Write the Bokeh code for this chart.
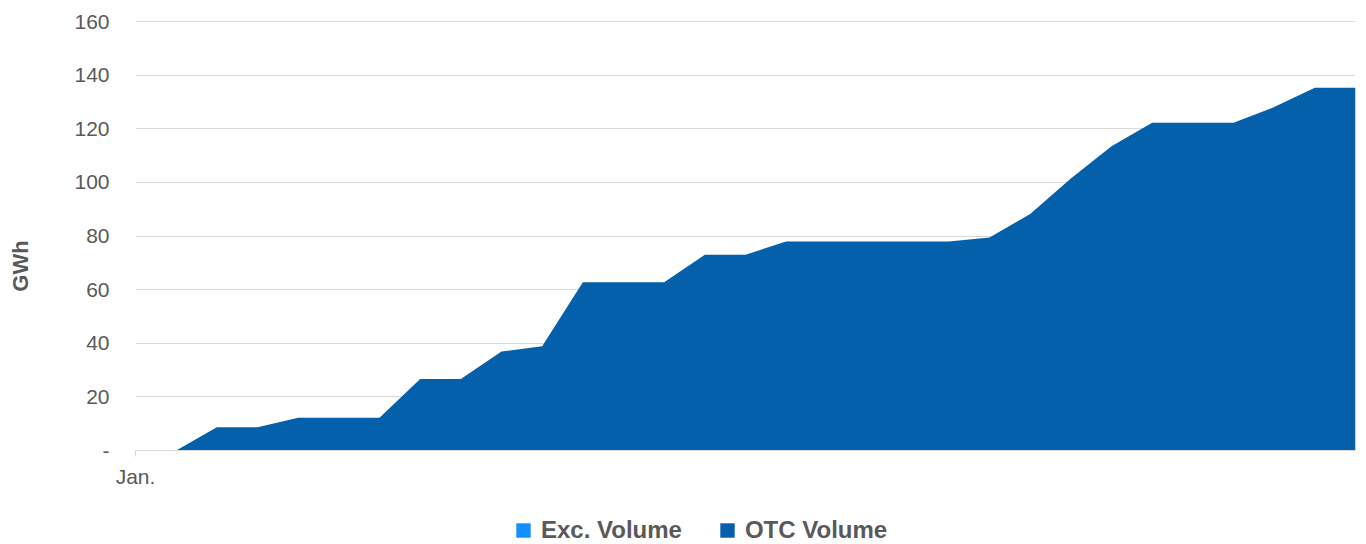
from bokeh.plotting import figure
from bokeh.layouts import column
from bokeh.models import FixedTicker, Legend, LegendItem, ColumnDataSource, Range1d
from bokeh.embed import file_html
from bokeh.resources import INLINE

# ---- data ----
days = [0, 1, 2, 3, 4, 5, 6, 7, 8, 9, 10, 11, 12, 13, 14, 15, 16, 17, 18, 19,
        20, 21, 22, 23, 24, 25, 26, 27, 28, 29, 30]
exc_volume = [0, 0, 0, 0, 0, 0, 0, 0, 0, 0, 0, 0, 0, 0, 0, 0, 0, 0, 0, 0,
              0, 0, 0, 0, 0, 0, 0, 0, 0, 0, 0]
otc_volume = [0, 0, 8.7, 8.7, 12.2, 12.2, 12.2, 26.7, 26.7, 36.9, 38.9,
              62.8, 62.8, 62.8, 73.0, 73.0, 78.0, 78.0, 78.0, 78.0, 78.0,
              79.5, 88.2, 101.5, 113.5, 122.3, 122.3, 122.3, 128.1, 135.3, 135.3]
y_ticks = [0, 20, 40, 60, 80, 100, 120, 140, 160]
y_tick_labels = ["-", "20", "40", "60", "80", "100", "120", "140", "160"]
x_ticks = [0]
x_tick_labels = ["Jan."]
series_names = ["Exc. Volume", "OTC Volume"]
series_colors = ["#138FFF", "#0560AC"]
y_title = "GWh"

FONT = "Liberation Sans"
TXT = "#595959"
GRID = "#d9d9d9"
NBSP = "\u00a0"

src = ColumnDataSource(dict(day=days, exc=exc_volume, otc=otc_volume))

# ---- main chart ----
p = figure(width=1366, height=490, x_range=(0, 30), y_range=(0, 160.4),
           output_backend="svg", toolbar_location=None,
           min_border_left=135, min_border_right=11, min_border_top=20,
           min_border_bottom=40)
p.outline_line_color = None
p.background_fill_color = "white"

rs = p.varea_stack(stackers=["exc", "otc"], x="day", source=src,
                   color=series_colors)

p.xgrid.grid_line_color = None
p.ygrid.grid_line_color = GRID
p.ygrid.grid_line_width = 1
p.ygrid.ticker = FixedTicker(ticks=y_ticks)

ya = p.yaxis[0]
ya.ticker = FixedTicker(ticks=y_ticks)
ya.major_label_overrides = {t: l for t, l in zip(y_ticks, y_tick_labels)}
ya.axis_line_color = None
ya.major_tick_line_color = None
ya.minor_tick_line_color = None
ya.major_tick_out = 0
ya.major_tick_in = 0
ya.major_label_standoff = 26
ya.major_label_text_font = FONT
ya.major_label_text_font_size = "21px"
ya.major_label_text_color = TXT
# trailing no-break spaces push the rotated title down to where the original sits
ya.axis_label = y_title + NBSP * 10
ya.axis_label_standoff = 38
ya.axis_label_text_font = FONT
ya.axis_label_text_font_size = "22px"
ya.axis_label_text_font_style = "bold"
ya.axis_label_text_color = TXT

xa = p.xaxis[0]
xa.ticker = FixedTicker(ticks=x_ticks)
xa.major_label_overrides = {t: l for t, l in zip(x_ticks, x_tick_labels)}
xa.axis_line_color = GRID
xa.axis_line_width = 1
xa.major_tick_line_color = GRID
xa.major_tick_out = 6
xa.major_tick_in = 0
xa.minor_tick_line_color = None
xa.major_label_standoff = 8
xa.major_label_text_font = FONT
xa.major_label_text_font_size = "21px"
xa.major_label_text_color = TXT

# ---- legend strip ----
lf = figure(width=1366, height=54, x_range=Range1d(1000, 1001),
            y_range=Range1d(1000, 1001), output_backend="svg",
            toolbar_location=None, x_axis_location=None, y_axis_location=None,
            min_border_left=0, min_border_right=0, min_border_top=0,
            min_border_bottom=0)
lf.outline_line_color = None
lf.grid.grid_line_color = None
lrs = lf.varea_stack(stackers=["exc", "otc"], x="day", source=src,
                     color=series_colors)

legend = Legend(
    items=[LegendItem(label=n, renderers=[r]) for n, r in zip(series_names, lrs)],
    orientation="horizontal", location=(379, 0),
    glyph_width=18, glyph_height=18, label_standoff=9, spacing=36,
    padding=0, margin=0, border_line_color=None, background_fill_alpha=0,
    label_text_font=FONT, label_text_font_size="24px",
    label_text_font_style="bold", label_text_color=TXT,
)
lf.add_layout(legend, "center")

layout = column(p, lf, spacing=0)
open("out.html", "w").write(file_html(layout, INLINE))
